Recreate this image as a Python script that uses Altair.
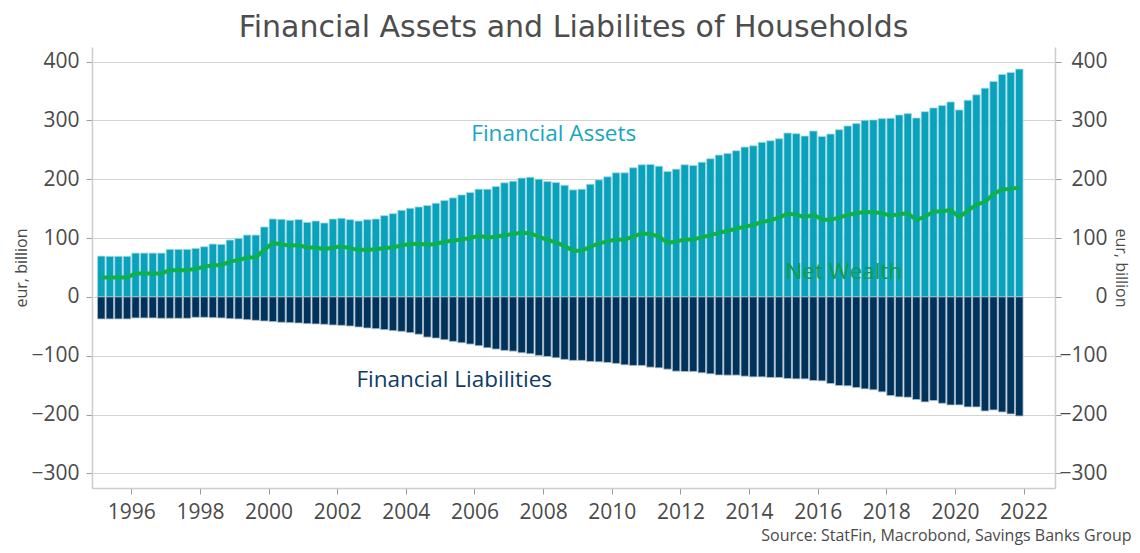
import altair as alt
import pandas as pd

# ---------------- data ----------------
start_year = 1995  # first quarter shown: 1995 Q1, one bar per quarter

assets = [69.4, 69, 69, 69, 74.5, 74.5, 74.5, 74.5, 80.8, 80.8, 80.8, 82.5, 85.3, 89.9, 89.3, 96.7,
          99.5, 105.2, 105.2, 118.9, 132.5, 132, 130.3, 131.4, 126.8, 129.1, 125.7, 132.5, 133.7, 131.4,
          129.1, 131.4, 132.5, 138.2, 141.6, 147.3, 150.7, 153,
          155.3, 159.3, 163.8, 168.4, 173.5, 177.5, 183.2, 183.2, 187.7, 194,
          196.8, 202, 203.6, 200.2, 196.2, 194.5, 190, 182, 183.2, 191.7,
          199, 204.2, 211, 211, 219.6, 224.7, 225.3, 222.4, 213.3, 217.3,
          224.7, 223.5, 229.2, 235, 241.2, 244,
          248.6, 254.8, 257, 262.8, 265.6, 269, 278.7, 277.6, 273.6, 282.1,
          273, 277, 284.4, 290.7, 294.7, 300.3, 301, 303.2, 303.8, 309.4,
          311.7, 304.3, 315, 321.4, 325.4, 331.6, 318, 334.5, 343.6, 355,
          366.3, 378.3, 381.7, 387.4]

liabilities = [-37.5, -37.5, -37.5, -37.5, -35.8, -35.8, -35.8, -36.4, -36.4, -36.4, -36.4, -34.7, -34.7,
               -35.3, -35.8, -37, -37.5, -38.7, -39.8, -41, -42, -43.2, -43.8, -44.4, -45.5, -46, -46.6,
               -47.8, -48.4, -49.5, -51.2, -52.9, -54, -55.7, -57.4, -58.6, -60.8, -63.5,
               -68.3, -70, -72.8, -75.7, -78, -80.2, -83, -86.5, -88.7, -91,
               -92.2, -95, -96.7, -99.5, -101.3, -103.5, -106.4, -108, -108, -109.8,
               -110.4, -111.5, -113.2, -115.5, -116.6, -116.6, -119.5, -120.6, -122.9, -126.3,
               -126.8, -126.8, -129.1, -130.8, -132.8, -133.1,
               -133, -134.8, -136, -136, -137, -137, -138.8, -139.4, -139.4, -142.2,
               -142.8, -147.3, -150.7, -151.3, -154.2, -156.4, -158, -161.5, -167.8, -170,
               -170.6, -174.6, -178.6, -176.3, -180.9, -183.7, -183.7, -187.1, -187.1, -194,
               -192.2, -195.7, -199, -202.5]

net_wealth = [33, 33, 33, 33, 40, 40, 40, 40, 45.5, 45.5, 45.5, 48, 51, 54, 54, 60, 62.6, 67, 67, 80,
              92, 89, 87.6, 88, 84, 84, 81, 84, 86, 82.5, 80, 80, 81, 83, 84, 87.6, 90, 90.5,
              88.7, 90, 94, 95.6, 97.8, 100, 104, 101, 102.4, 105,
              107, 109.2, 108, 102.4, 96.7, 92.7, 86.5, 78.5, 78.5, 85.3,
              91, 94.4, 97.8, 97.3, 102.4, 108, 107, 102.4, 92, 94,
              97.8, 97.8, 101.2, 105, 109, 112,
              116, 119.5, 122.3, 127.4, 130.3, 134.8, 141.6, 140, 135.4, 140,
              131.4, 131.4, 134.8, 139.4, 142.2, 144.5, 143.9, 142.2, 138.2, 140.5,
              142.2, 130.8, 136.5, 145, 145.6, 147.9, 135.4, 146.8, 157, 161.5,
              175.2, 183.2, 183.7, 186]

x_ticks = [1996, 1998, 2000, 2002, 2004, 2006, 2008, 2010, 2012, 2014, 2016, 2018, 2020, 2022]
y_ticks = [-300, -200, -100, 0, 100, 200, 300, 400]

label_texts = ["Financial Assets", "Net Wealth", "Financial Liabilities"]
label_x = [2008.31, 2016.76, 2005.41]
label_y = [277, 42, -141]
label_colors = ["#1aa5c2", "#119c4a", "#0d3b66"]

title_text = "Financial Assets and Liabilites of Households"
source_text = "Source: StatFin, Macrobond, Savings Banks Group"
y_title = "eur, billion"

# ---------------- styling ----------------
FONT = "Open Sans"
TITLE_FONT = "DejaVu Sans"
TXT = "#4a4a4a"
GRID = "#d3d3d3"
ASSET_C = "#0aa2bb"
LIAB_C = "#00325a"
LINE_C = "#0db14b"

PLOT_W, PLOT_H = 963, 441

n = len(assets)
pos = [start_year + (i + 0.5) / 4 for i in range(n)]  # quarter midpoints
df = pd.DataFrame({"t": pos, "assets": assets, "liab": liabilities, "net": net_wealth})
lab = pd.DataFrame({"text": label_texts, "x": label_x, "y": label_y, "c": label_colors})

xscale = alt.Scale(domain=[1995.0, 2022.77], nice=False, zero=False)
yscale = alt.Scale(domain=[-325, 425], nice=False)

x_axis = alt.Axis(values=x_ticks, format="d", grid=False, title=source_text,
                  labelFont=FONT, labelFontSize=21, labelColor=TXT, labelPadding=7,
                  tickColor="#9a9a9a", tickSize=6, domainColor="#cccccc", domainWidth=1.5,
                  titleFont=FONT, titleFontSize=16, titleFontWeight="normal", titleColor=TXT,
                  titleAlign="right", titleAnchor="start", titleX=1039, titleY=52.5,
                  titleBaseline="alphabetic", labelFlush=False)

left_axis = alt.Axis(orient="left", values=y_ticks, grid=True, gridColor=GRID, gridWidth=1,
                     labelFont=FONT, labelFontSize=21, labelColor=TXT, labelPadding=7,
                     tickColor="#9a9a9a", tickSize=6, domainColor="#cccccc", domainWidth=1.5,
                     title=y_title, titleFont=FONT, titleFontSize=16, titleFontWeight="normal",
                     titleColor=TXT, titleAngle=270, titleX=-70.5, titleY=PLOT_H / 2,
                     titleAlign="center", titleBaseline="middle")

right_axis = alt.Axis(orient="right", values=y_ticks, grid=False,
                      labelFont=FONT, labelFontSize=21, labelColor=TXT, labelPadding=46,
                      labelAlign="right",
                      tickColor="#9a9a9a", tickSize=6, domainColor="#cccccc", domainWidth=1.5,
                      title=y_title, titleFont=FONT, titleFontSize=16, titleFontWeight="normal",
                      titleColor=TXT, titleAngle=90, titleX=65, titleY=PLOT_H / 2,
                      titleAlign="center", titleBaseline="middle")

base = alt.Chart(df)

assets_bar = base.mark_bar(width=7.5, color=ASSET_C, stroke="#a6dbe6", strokeWidth=0.8).encode(
    x=alt.X("t:Q", scale=xscale, axis=x_axis),
    y=alt.Y("assets:Q", scale=yscale, axis=left_axis),
    y2=alt.datum(0),
)

liab_bar = base.mark_bar(width=7.5, color=LIAB_C, stroke="#a9bccd", strokeWidth=0.8).encode(
    x=alt.X("t:Q", scale=xscale),
    y=alt.Y("liab:Q", scale=yscale, axis=right_axis),
    y2=alt.datum(0),
)

net_line = base.mark_line(color=LINE_C, strokeWidth=4, strokeJoin="round").encode(
    x=alt.X("t:Q", scale=xscale),
    y=alt.Y("net:Q", scale=yscale, axis=None),
)

labels = alt.Chart(lab).mark_text(font=FONT, fontSize=22.5, align="center", baseline="middle").encode(
    x=alt.X("x:Q", scale=xscale),
    y=alt.Y("y:Q", scale=yscale, axis=None),
    text="text:N",
    color=alt.Color("c:N", scale=None),
)

chart = alt.layer(assets_bar, liab_bar, net_line, labels).resolve_axis(
    y="independent"
).properties(
    width=PLOT_W,
    height=PLOT_H,
    autosize=alt.AutoSizeParams(type="none"),
    padding={"left": 84, "top": 39, "right": 77, "bottom": 57},
    title=alt.TitleParams(title_text, font=TITLE_FONT, fontSize=30, fontWeight="normal",
                          color="#4d4d4d", anchor="middle", offset=4.5),
).configure_view(stroke=None)

chart.save("out.html", embed_options={"renderer": "svg", "actions": False})
